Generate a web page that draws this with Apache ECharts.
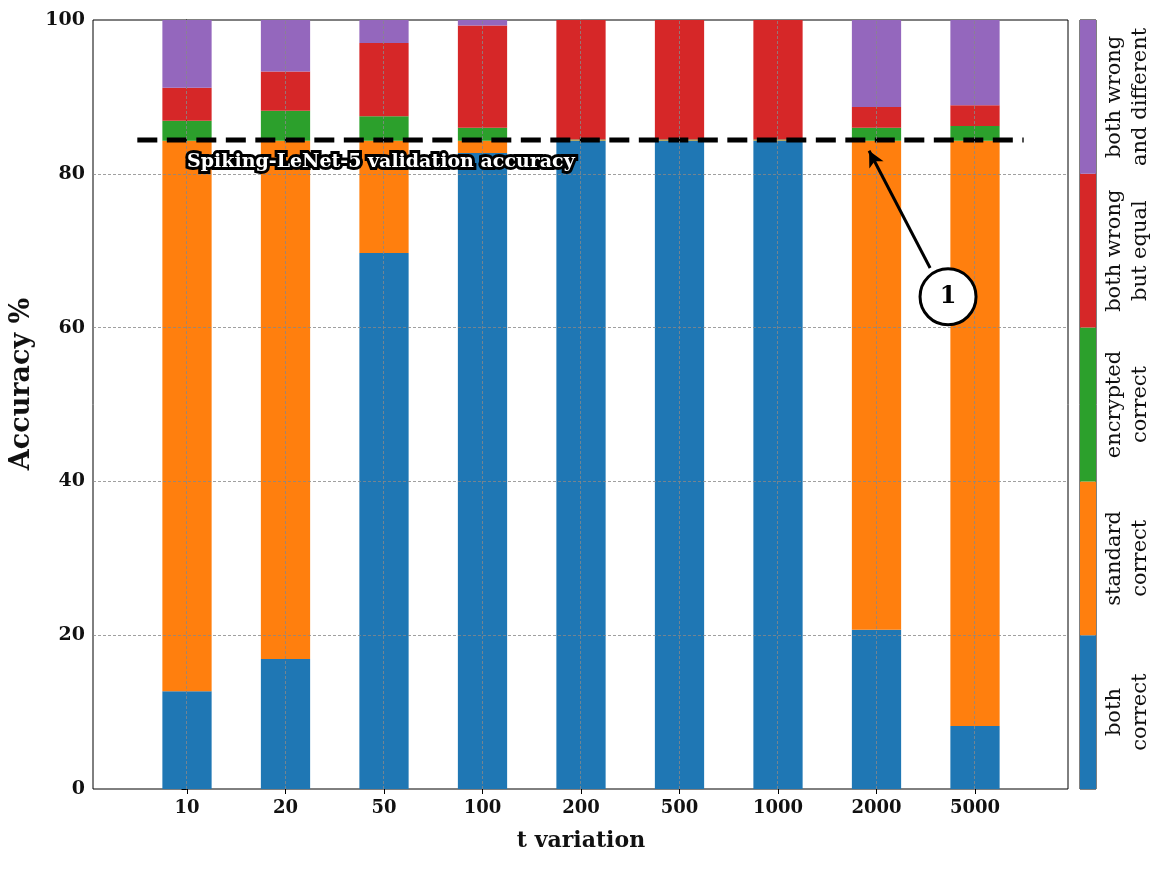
<!DOCTYPE html>
<html>
<head>
<meta charset="utf-8">
<script src="https://cdn.jsdelivr.net/npm/echarts@6/dist/echarts.min.js"></script>
<style>html,body{margin:0;padding:0;background:#fff;}#c{width:1163px;height:869px;}</style>
</head>
<body>
<div id="c"></div>
<script>
// ---- data ----
const categories = ['10', '20', '50', '100', '200', '500', '1000', '2000', '5000'];
const bothCorrect      = [12.7, 16.9, 69.7, 82.7, 84.3, 84.3, 84.3, 20.7, 8.2];
const standardCorrect  = [71.6, 67.4, 14.6, 1.6, 0.05, 0.05, 0.05, 63.6, 76.1];
const encryptedCorrect = [2.6, 3.9, 3.2, 1.7, 0.1, 0.1, 0.1, 1.7, 1.9];
const wrongEqual       = [4.3, 5.1, 9.5, 13.3, 15.55, 15.55, 15.55, 2.7, 2.7];
const wrongDifferent   = [8.8, 6.7, 3.0, 0.7, 0, 0, 0, 11.3, 11.1];
const seriesNames = ['both correct', 'standard correct', 'encrypted correct', 'both wrong but equal', 'both wrong and different'];
const colorbarLabels = ['both\ncorrect', 'standard\ncorrect', 'encrypted\ncorrect', 'both wrong\nbut equal', 'both wrong\nand different'];
const colors = ['#1f77b4', '#ff7f0e', '#2ca02c', '#d62728', '#9467bd'];
const yTicks = [0, 20, 40, 60, 80, 100];
const validationAccuracy = 84.4;
const annotationText = 'Spiking-LeNet-5 validation accuracy';

const serif = '"DejaVu Serif", serif';
const chart = echarts.init(document.getElementById('c'));
const values = [bothCorrect, standardCorrect, encryptedCorrect, wrongEqual, wrongDifferent];

const barSeries = values.map((v, i) => ({
  name: seriesNames[i], type: 'bar', stack: 'acc', xAxisIndex: 1, yAxisIndex: 1,
  barWidth: '50%', z: 2, itemStyle: { color: colors[i] }, data: v
}));

const gridMarks = categories.map((c, i) => ({ xAxis: i }))
  .concat(yTicks.filter(t => t > 0 && t < 100).map(t => ({ yAxis: t })));

const option = {
  animation: false,
  backgroundColor: '#fff',
  grid: [
    { left: 93, right: 95, top: 20, bottom: 80, show: true, borderColor: '#000', borderWidth: 1, backgroundColor: 'transparent' },
    { left: 137.75, width: 886.5, top: 20, bottom: 80 },
    { left: 1080, width: 16, top: 20, bottom: 80, show: true, borderColor: '#000', borderWidth: 1 }
  ],
  xAxis: [
    { gridIndex: 0, type: 'value', min: -0.95, max: 8.95, show: false },
    { gridIndex: 1, type: 'category', data: categories,
      axisLine: { show: false },
      axisTick: { show: true, alignWithLabel: true, length: 5, lineStyle: { color: '#000' } },
      axisLabel: { fontFamily: serif, fontWeight: 'bold', fontSize: 18, color: '#111', margin: 10 },
      splitLine: { show: false },
      name: 't variation', nameLocation: 'middle', nameGap: 41,
      nameTextStyle: { fontFamily: serif, fontWeight: 'bold', fontSize: 22, color: '#111' } },
    { gridIndex: 2, type: 'value', min: 0, max: 1, show: false }
  ],
  yAxis: [
    { gridIndex: 0, type: 'value', min: 0, max: 100, interval: 20,
      axisLine: { show: true, lineStyle: { color: '#000' } },
      axisTick: { show: true, length: 5, lineStyle: { color: '#000' } },
      axisLabel: { fontFamily: serif, fontWeight: 'bold', fontSize: 19, color: '#111', margin: 8 },
      splitLine: { show: false } },
    { gridIndex: 1, type: 'value', min: 0, max: 100, show: false },
    { gridIndex: 2, type: 'category', data: colorbarLabels, position: 'right',
      axisLine: { show: false },
      axisTick: { show: true, alignWithLabel: true, length: 5, lineStyle: { color: '#000' } },
      axisLabel: { interval: 0, rotate: 90, fontFamily: serif, fontSize: 21, color: '#111', lineHeight: 26, margin: 6 } }
  ],
  graphic: [
    { type: 'text', x: 22, y: 384, rotation: Math.PI / 2,
      style: { text: 'Accuracy %', fontFamily: serif, fontWeight: 'bold', fontSize: 27, fill: '#111',
               align: 'center', verticalAlign: 'middle' } }
  ],
  series: barSeries.concat([
    { type: 'bar', xAxisIndex: 2, yAxisIndex: 2, barWidth: '100%', z: 2,
      data: colors.map(c => ({ value: 1, itemStyle: { color: c } })) },
    { type: 'line', xAxisIndex: 0, yAxisIndex: 0, z: 3, symbol: 'none', silent: true,
      data: [], 
      markLine: { silent: true, symbol: 'none', label: { show: false },
        lineStyle: { color: '#888', width: 0.8, type: [3, 2] },
        data: gridMarks } },
    { type: 'line', xAxisIndex: 0, yAxisIndex: 0, z: 4, symbol: 'none', silent: true,
      lineStyle: { color: '#000', width: 5, type: [20, 9.5] },
      data: [[-0.5, validationAccuracy], [8.5, validationAccuracy]] },
    { type: 'line', xAxisIndex: 0, yAxisIndex: 0, z: 5, symbol: 'none', silent: true,
      data: [],
      markLine: { silent: true, symbol: ['none', 'arrow'], symbolSize: [12, 16], label: { show: false },
        lineStyle: { color: '#000', width: 3, type: 'solid' },
        data: [[{ coord: [7.55, 67.75] }, { coord: [6.93, 83.0] }]] },
      markPoint: { silent: true,
        data: [
          { coord: [7.732, 64.0], symbol: 'circle', symbolSize: 56,
            itemStyle: { color: '#fff', borderColor: '#000', borderWidth: 3 },
            label: { show: true, formatter: '1', position: 'inside', fontFamily: serif, fontWeight: 'bold', fontSize: 24, color: '#000' } },
          { coord: [0, 81.5], symbol: 'rect', symbolSize: 1, itemStyle: { color: 'rgba(0,0,0,0)' },
            label: { show: true, formatter: annotationText, position: 'right', distance: 0,
              fontFamily: serif, fontWeight: 'bold', fontSize: 19, color: '#fff',
              textBorderColor: '#000', textBorderWidth: 6 } }
        ] } }
  ])
};
chart.setOption(option);
</script>
</body>
</html>
